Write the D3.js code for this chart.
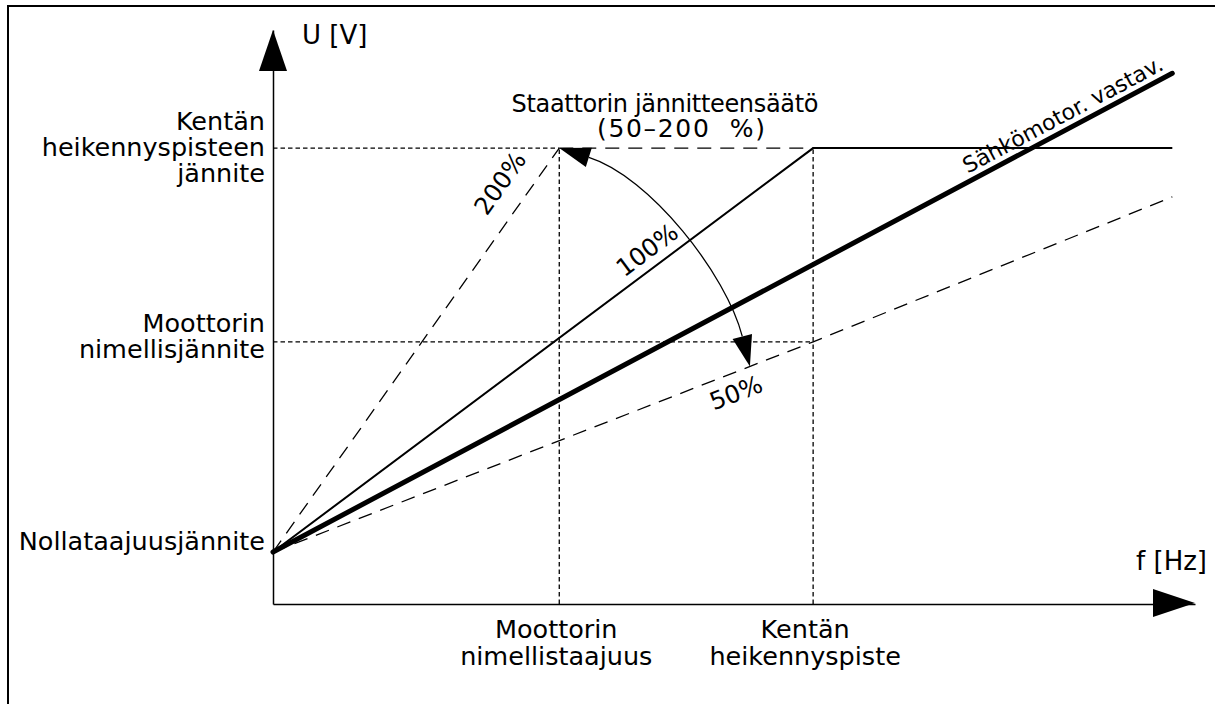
<!DOCTYPE html>
<html>
<head>
<meta charset="utf-8">
<script src="https://cdn.jsdelivr.net/npm/d3@7"></script>
<style>
  html, body { margin: 0; padding: 0; background: #fff; }
  svg { display: block; font-family: "DejaVu Sans", Verdana, sans-serif; }
</style>
</head>
<body>
<svg id="chart" width="1215" height="704"></svg>
<script>
// Frequency marks, relative to the field-weakening point (= 1)
const fTicks = [0.53, 1];
const fTickLabels = [["Moottorin", "nimellistaajuus"], ["Kentän", "heikennyspiste"]];

// Voltage marks, relative to the field-weakening voltage (= 1)
const uTicks = [1, 0.575, 0.114];
const uTickLabels = [
  ["Kentän", "heikennyspisteen", "jännite"],
  ["Moottorin", "nimellisjännite"],
  ["Nollataajuusjännite"]
];

// U/f curves as [f, U] pairs
const curve100 = [[0, 0.114], [1, 1], [1.665, 1]];
const curve200 = [[0, 0.114], [0.53, 1]];
const curve50 = [[0, 0.114], [1, 0.575], [1.665, 0.893]];
const curveMotor = [[0, 0.114], [1.665, 1.164]];

// Stator voltage adjustment: arrow from the 200 % curve down to the 50 % curve
const adjustFrom = [0.53, 1];
const adjustTo = [0.883, 0.521];

const axisEnd = { f: 1.707, u: 1.259 };
const axisTitles = { f: "f [Hz]", u: "U [V]" };
const adjustTitle = ["Staattorin jännitteensäätö", "(50–200\u00a0\u00a0%)"];

// ---------------------------------------------------------------
const svg = d3.select("#chart");
const fontSize = 25.5;

const x = d3.scaleLinear().domain([0, axisEnd.f]).range([273, 1195]);
const y = d3.scaleLinear().domain([0, axisEnd.u]).range([604, 30]);
const line = d3.line().x(d => x(d[0])).y(d => y(d[1]));

// outer frame (open to the right and bottom)
svg.append("path")
  .attr("d", "M8,704V6H1215")
  .attr("fill", "none").attr("stroke", "#000").attr("stroke-width", 2);

// short-dashed guide lines to the axes
const guides = svg.append("g")
  .attr("fill", "none").attr("stroke", "#000")
  .attr("stroke-width", 1.3).attr("stroke-dasharray", "4.5,3");
guides.append("path").attr("d", line([[0, uTicks[0]], [fTicks[0], uTicks[0]]]));
guides.append("path").attr("d", line([[0, uTicks[1]], [fTicks[1], uTicks[1]]]));
fTicks.forEach(f => {
  guides.append("path").attr("d", line([[f, 0], [f, uTicks[0]]]));
});

// long-dashed curves (200 % and 50 %) and the dashed top between them
const dashed = svg.append("g")
  .attr("fill", "none").attr("stroke", "#000")
  .attr("stroke-width", 1.3).attr("stroke-dasharray", "14,9");
dashed.append("path").attr("d", line(curve200));
dashed.append("path").attr("d", line(curve50));
dashed.append("path").attr("d", line([[fTicks[0], uTicks[0]], [fTicks[1], uTicks[0]]]));

// 100 % curve
svg.append("path").attr("d", line(curve100))
  .attr("fill", "none").attr("stroke", "#000").attr("stroke-width", 2);

// motor-matched curve
svg.append("path").attr("d", line(curveMotor))
  .attr("fill", "none").attr("stroke", "#000").attr("stroke-width", 5)
  .attr("stroke-linecap", "round");

// adjustment arrow: a curved stem with a triangular head at each end
const headLen = 31, headHalf = 10, bend = 64;
const tipA = [x(adjustFrom[0]), y(adjustFrom[1])];
const tipB = [x(adjustTo[0]), y(adjustTo[1])];
const unit = (dx, dy) => { const l = Math.hypot(dx, dy); return [dx / l, dy / l]; };
const dirA = unit(-0.952, -0.30);   // head A points up-left
const dirB = unit(0.247, 0.970);    // head B points down
const baseA = [tipA[0] - headLen * dirA[0], tipA[1] - headLen * dirA[1]];
const baseB = [tipB[0] - headLen * dirB[0], tipB[1] - headLen * dirB[1]];
const stem = d3.path();
stem.moveTo(baseA[0], baseA[1]);
stem.bezierCurveTo(
  baseA[0] - bend * dirA[0], baseA[1] - bend * dirA[1],
  baseB[0] - bend * dirB[0], baseB[1] - bend * dirB[1],
  baseB[0], baseB[1]);
svg.append("path").attr("d", stem.toString())
  .attr("fill", "none").attr("stroke", "#000").attr("stroke-width", 1.3);

function head(tip, dir) {
  const b = [tip[0] - headLen * dir[0], tip[1] - headLen * dir[1]];
  const n = [-dir[1], dir[0]];
  return [tip, [b[0] + headHalf * n[0], b[1] + headHalf * n[1]],
          [b[0] - headHalf * n[0], b[1] - headHalf * n[1]]];
}
[head(tipA, dirA), head(tipB, dirB)].forEach(pts => {
  svg.append("polygon").attr("points", pts.map(p => p.join(",")).join(" "))
    .attr("fill", "#000");
});

// axes with arrowheads
svg.append("g").attr("transform", `translate(${x(0)},0)`)
  .call(d3.axisLeft(y).tickValues([]).tickSizeOuter(0))
  .select(".domain").attr("stroke-width", 1.5);
svg.append("g").attr("transform", `translate(0,${y(0)})`)
  .call(d3.axisBottom(x).tickValues([]).tickSizeOuter(0))
  .select(".domain").attr("stroke-width", 1.5);

const yTip = [x(0), y(axisEnd.u)];
svg.append("polygon")
  .attr("points", [[yTip[0], yTip[1]], [yTip[0] - 14, yTip[1] + 41], [yTip[0] + 14, yTip[1] + 41]]
    .map(p => p.join(",")).join(" "))
  .attr("fill", "#000");
const xTip = [x(axisEnd.f), y(0) - 1];
svg.append("polygon")
  .attr("points", [[xTip[0], xTip[1]], [xTip[0] - 42, xTip[1] - 14], [xTip[0] - 42, xTip[1] + 14]]
    .map(p => p.join(",")).join(" "))
  .attr("fill", "#000");

// axis titles
svg.append("text").attr("x", x(0) + 29).attr("y", 44)
  .attr("font-size", 26).text(axisTitles.u);
svg.append("text").attr("x", 1207).attr("y", 570)
  .attr("text-anchor", "end").attr("font-size", 26).text(axisTitles.f);

// voltage labels, right-aligned beside the vertical axis
const yLabelFirst = [-18.5, -10, -2];
uTicks.forEach((u, i) => {
  const t = svg.append("text")
    .attr("x", x(0) - 8).attr("y", y(u) + yLabelFirst[i])
    .attr("text-anchor", "end").attr("font-size", fontSize);
  uTickLabels[i].forEach((s, k) => {
    t.append("tspan").attr("x", x(0) - 8).attr("dy", k === 0 ? 0 : 26).text(s);
  });
});

// frequency labels under the horizontal axis
const xLabelShift = [-3, -8];
fTicks.forEach((f, i) => {
  const t = svg.append("text")
    .attr("x", x(f) + xLabelShift[i]).attr("y", 638)
    .attr("text-anchor", "middle").attr("font-size", fontSize);
  fTickLabels[i].forEach((s, k) => {
    t.append("tspan").attr("x", x(f) + xLabelShift[i]).attr("dy", k === 0 ? 0 : 27).text(s);
  });
});

// title of the adjustment range
svg.append("text").attr("x", 665).attr("y", 112)
  .attr("text-anchor", "middle").attr("font-size", 24)
  .attr("textLength", 307).attr("lengthAdjust", "spacing")
  .text(adjustTitle[0]);
svg.append("text").attr("x", 681).attr("y", 137)
  .attr("text-anchor", "middle").attr("font-size", 25)
  .attr("textLength", 168).attr("lengthAdjust", "spacing")
  .text(adjustTitle[1]);

// labels written along the curves
function alongLabel(p0, p1, t, offset, text, size) {
  const a = [x(p0[0]), y(p0[1])], b = [x(p1[0]), y(p1[1])];
  const [ux, uy] = unit(b[0] - a[0], b[1] - a[1]);
  const nx = uy, ny = -ux;                      // normal towards upper left
  const cx = a[0] + (b[0] - a[0]) * t + offset * nx;
  const cy = a[1] + (b[1] - a[1]) * t + offset * ny;
  const ang = Math.atan2(uy, ux) * 180 / Math.PI;
  svg.append("text")
    .attr("transform", `translate(${cx},${cy}) rotate(${ang})`)
    .attr("text-anchor", "middle").attr("dy", "0.35em")
    .attr("font-size", size).text(text);
}
alongLabel(curve200[0], curve200[1], 0.873, 28, "200%", 24.5);
alongLabel(curve100[0], curve100[1], 0.7125, 18, "100%", 24.5);
alongLabel(curve50[0], curve50[1], 0.844, -19.4, "50%", 24.5);
alongLabel(curveMotor[0], curveMotor[1], 0.886, 15, "Sähkömotor. vastav.", 22);
</script>
</body>
</html>
